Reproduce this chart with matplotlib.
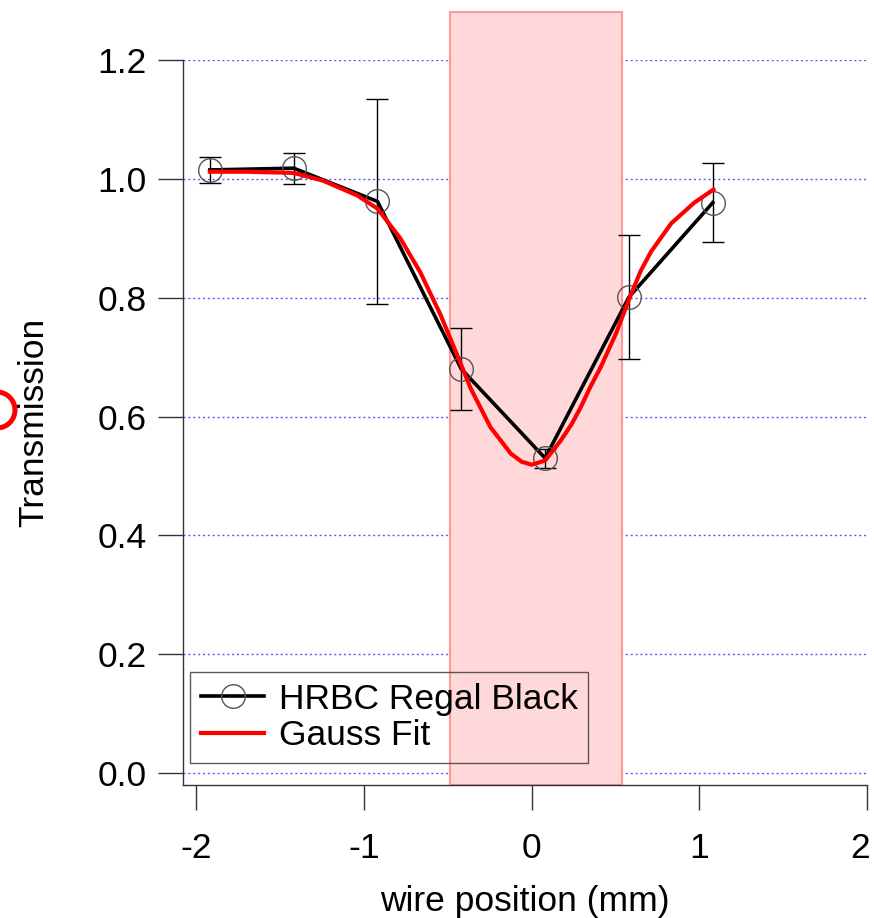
import numpy as np
import matplotlib
matplotlib.use("Agg")
import matplotlib.pyplot as plt
import matplotlib.transforms as mtransforms
from matplotlib.patches import Rectangle, Ellipse

plt.rcParams['font.family'] = ['Liberation Sans', 'DejaVu Sans']

# measured transmission vs wire position
pos = [-1.92, -1.42, -0.92, -0.42, 0.08, 0.58, 1.08]
trans = [1.015, 1.018, 0.962, 0.680, 0.530, 0.801, 0.960]
trans_err = [0.022, 0.026, 0.173, 0.069, 0.016, 0.104, 0.066]

# gauss fit curve
fit_x = [-1.92, -1.70, -1.42, -1.245, -1.04, -0.92, -0.784, -0.665, -0.545,
         -0.425, -0.365, -0.246, -0.18, -0.126, -0.06, 0.0, 0.08, 0.174,
         0.24, 0.293, 0.35, 0.413, 0.503, 0.593, 0.65, 0.713, 0.832, 0.97,
         1.084]
fit_y = [1.012, 1.012, 1.010, 0.997, 0.972, 0.950, 0.900, 0.843, 0.772,
         0.690, 0.648, 0.582, 0.558, 0.538, 0.524, 0.519, 0.526, 0.560,
         0.588, 0.616, 0.650, 0.684, 0.740, 0.806, 0.845, 0.878, 0.925,
         0.960, 0.982]

# shaded band (mm)
band = [-0.49, 0.537]

fig = plt.figure(figsize=(8.74, 9.18), dpi=100)
ax = fig.add_axes([183/874, 1-785/918, (867-183)/874, (785-60)/918])

ax.set_xlim(-2.08, 2.0)
ax.set_ylim(-0.02, 1.2)

for yv in np.arange(0, 1.21, 0.2):
    ax.axhline(yv, color='#5a5aff', lw=1.0, ls=(0, (1.5, 2.0)), zorder=1)

ax.add_patch(Rectangle((band[0], -0.02), band[1]-band[0], 1.30,
                       facecolor='#ffd9d9', edgecolor='#ff9999', lw=1.5,
                       clip_on=False, zorder=2))

ax.errorbar(pos, trans, yerr=trans_err, fmt='none', ecolor='black',
            elinewidth=1.0, capsize=8, capthick=1.0, zorder=3)
ax.plot(pos, trans, color='black', lw=2.6, marker='o', ms=17,
        mfc='none', mec='#555555', mew=1.0, zorder=4,
        label='HRBC Regal Black')
ax.plot(fit_x, fit_y, color='red', lw=3.0, zorder=5, label='Gauss Fit')

for s in ['top', 'right']:
    ax.spines[s].set_visible(False)
for s in ['left', 'bottom']:
    ax.spines[s].set_linewidth(1.0)
    ax.spines[s].set_color('#333333')

ax.set_xticks([-2, -1, 0, 1, 2])
ax.set_xticklabels(['-2', '-1', '0', '1', '2'])
ax.set_yticks(np.arange(0, 1.21, 0.2))
ax.set_yticklabels(['%.1f' % v for v in np.arange(0, 1.21, 0.2)])
ax.tick_params(direction='out', length=18, width=1.0, color='#333333',
               labelsize=25.5, pad=8)
ax.tick_params(axis='x', pad=16)

# keep the last x label inside the figure edge
last = ax.get_xticklabels()[-1]
last.set_transform(last.get_transform() +
                   mtransforms.ScaledTranslation(-5/72, 0, fig.dpi_scale_trans))

ax.set_xlabel('wire position (mm)', fontsize=25.5, labelpad=14)
ax.set_ylabel('Transmission', fontsize=25.5, labelpad=34)

leg = ax.legend(loc='lower left', bbox_to_anchor=(7/684, 22/725),
                fontsize=25.5, frameon=True, fancybox=False,
                handlelength=1.8, handletextpad=0.4, borderpad=0.3,
                labelspacing=0.1, borderaxespad=0)
leg.get_frame().set_facecolor('none')
leg.get_frame().set_edgecolor('#333333')
leg.get_frame().set_linewidth(1.0)

fig.add_artist(Ellipse((-3/874, 1-410/918), 36/874, 36/918,
                       transform=fig.transFigure, fill=False,
                       edgecolor='red', lw=3.6))

fig.savefig('out.png', dpi=100)
